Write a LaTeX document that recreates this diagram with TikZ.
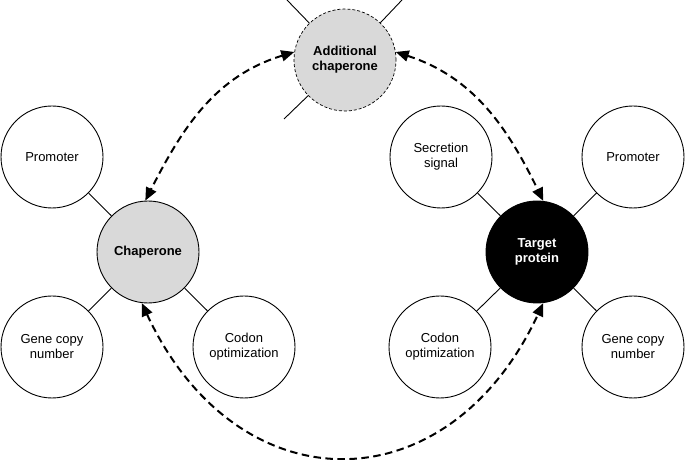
\documentclass[tikz,border=0pt]{standalone}
\usepackage{fontspec}
\setmainfont{Liberation Sans}
\usepackage{tikz}
\usetikzlibrary{arrows.meta}
\tikzset{
	hub/.style={circle,draw,line width=0.9bp,minimum size=102bp,inner sep=0pt,align=center,font=\fontsize{13bp}{15bp}\selectfont\bfseries},
	sat/.style={circle,draw,line width=0.9bp,minimum size=102bp,inner sep=0pt,align=center,fill=white,font=\fontsize{13bp}{15bp}\selectfont},
	link/.style={line width=2bp,dash pattern=on 7.5bp off 4.5bp,{Triangle[length=13bp,width=11bp]}-{Triangle[length=13bp,width=11bp]}}
}
\newcommand{\factor}[5]{\node[sat](#1) at (#3,#4) {#2};\draw[line width=0.9bp] (#5) to (#1);}

\begin{document}
\begin{tikzpicture}[x=1bp,y=1bp]
	\useasboundingbox (0,0) rectangle (685,460);

	\node[hub,fill=black!15,densely dashed,line width=0.7bp](addch) at (345,400) {Additional\\chaperone};
	\node[hub,fill=black!15](chap) at (148,208) {Chaperone};
	\node[hub,fill=black,text=white](target) at (537,208) {Target\\protein};

	\coordinate (spokeA) at (287,460);
	\coordinate (spokeB) at (402,460);
	\coordinate (spokeC) at (284,341);
	\draw[line width=0.9bp] (addch) to (spokeA);
	\draw[line width=0.9bp] (addch) to (spokeB);
	\draw[line width=0.9bp] (addch) to (spokeC);

	\factor{promL}{Promoter}{52}{303}{chap}
	\factor{geneL}{Gene copy\\number}{52}{113}{chap}
	\factor{codonL}{Codon\\optimization}{244}{113}{chap}

	\factor{secr}{Secretion\\signal}{441}{303}{target}
	\factor{promR}{Promoter}{633}{303}{target}
	\factor{codonR}{Codon\\optimization}{440}{113}{target}
	\factor{geneR}{Gene copy\\number}{633}{113}{target}

	\draw[link] (addch.171) to[out=197,in=63] (chap.93);
	\draw[link] (addch.9) to[out=342,in=116] (target.83);
	\draw[link] (chap.263) to[out=295,in=245,looseness=1.44] (target.277);
\end{tikzpicture}
\end{document}
